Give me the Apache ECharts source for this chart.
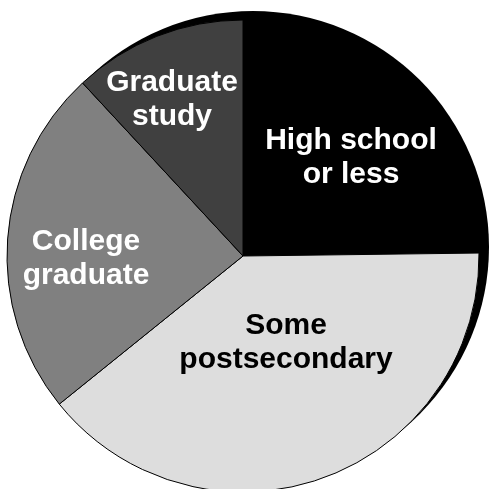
<!DOCTYPE html>
<html>
<head>
<meta charset="utf-8">
<style>
  html, body { margin: 0; padding: 0; background: #ffffff; }
  #chart { width: 492px; height: 489px; }
</style>
<script src="https://cdn.jsdelivr.net/npm/echarts@6/dist/echarts.min.js"></script>
</head>
<body>
<div id="chart"></div>
<script>
// Data (percent shares)
const categories = ['High school\nor less', 'Some\npostsecondary', 'College\ngraduate', 'Graduate\nstudy'];
const shares = [24.8, 39.4, 23.9, 11.9];

// Styling / layout (kept apart from the data)
const sliceColors = ['#000000', '#dddddd', '#808080', '#404040'];
const labelColors = ['#ffffff', '#000000', '#ffffff', '#ffffff'];
const labelCenters = [[351, 158], [286, 343], [86, 259], [172, 100]];
const pieCenter = [243, 256];
const pieRadius = 236;
const shadowOffset = [10, -9];

const chart = echarts.init(document.getElementById('chart'), null, { renderer: 'canvas' });

const pieData = categories.map((name, i) => ({
  name: name,
  value: shares[i],
  itemStyle: { color: sliceColors[i] },
  label: { color: labelColors[i] }
}));

chart.setOption({
  animation: false,
  backgroundColor: '#ffffff',
  series: [
    {
      // drop shadow disc behind the pie
      type: 'pie',
      silent: true,
      z: 1,
      center: [pieCenter[0] + shadowOffset[0], pieCenter[1] + shadowOffset[1]],
      radius: pieRadius,
      label: { show: false },
      labelLine: { show: false },
      itemStyle: { color: '#000000', borderWidth: 0 },
      data: [{ value: 1, name: 'shadow' }]
    },
    {
      type: 'pie',
      z: 2,
      center: pieCenter,
      radius: pieRadius,
      startAngle: 90,
      clockwise: true,
      itemStyle: { borderColor: '#000000', borderWidth: 1 },
      label: {
        show: true,
        position: 'inside',
        formatter: '{b}',
        fontFamily: '"Liberation Sans", Arial, sans-serif',
        fontWeight: 'bold',
        fontSize: 30,
        lineHeight: 34,
        align: 'center'
      },
      labelLine: { show: false },
      labelLayout: function (params) {
        const c = labelCenters[params.dataIndex];
        return { x: c[0], y: c[1], align: 'center', verticalAlign: 'middle' };
      },
      emphasis: { disabled: true },
      data: pieData
    }
  ]
});
</script>
</body>
</html>
